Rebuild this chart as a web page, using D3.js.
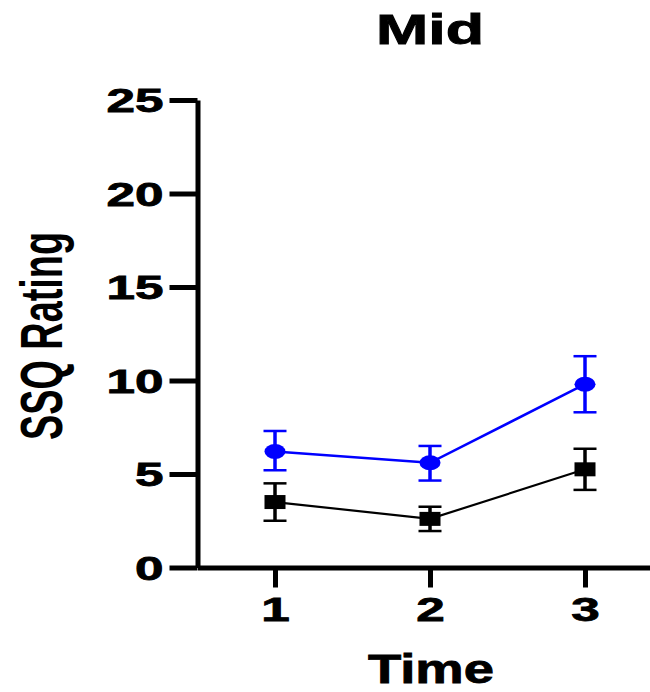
<!DOCTYPE html>
<html>
<head>
<meta charset="utf-8">
<script src="https://cdn.jsdelivr.net/npm/d3@7"></script>
<style>
  html, body { margin: 0; padding: 0; background: #fff; }
  svg { display: block; }
  text { font-family: "Liberation Sans", Arial, Helvetica, sans-serif; font-weight: bold; fill: #000; }
</style>
</head>
<body>
<script>
// Time points and group means with error-bar extents
const times = [1, 2, 3];
const blueMean  = [6.2, 5.6, 9.8];
const blueLow   = [5.2, 4.65, 8.3];
const blueHigh  = [7.3, 6.5, 11.3];
const blackMean = [3.5, 2.6, 5.25];
const blackLow  = [2.5, 1.95, 4.15];
const blackHigh = [4.5, 3.25, 6.35];
const yTicks = [0, 5, 10, 15, 20, 25];
const xTicks = [1, 2, 3];

const W = 650, H = 692;
const svg = d3.select("body").append("svg").attr("width", W).attr("height", H);

const x = d3.scaleLinear().domain([0.5, 3.5]).range([197.5, 662.5]);
const y = d3.scaleLinear().domain([0, 25]).range([567.5, 100]);

const digitW = 28.5;

// Y axis
const gy = svg.append("g").attr("transform", `translate(${x(0.5)},0)`)
  .call(d3.axisLeft(y).tickValues(yTicks).tickSize(28).tickSizeOuter(0).tickPadding(6).tickFormat(d3.format("d")));
gy.select(".domain").attr("stroke", "#000").attr("stroke-width", 5);
gy.selectAll(".tick line").attr("stroke", "#000").attr("stroke-width", 5);
gy.selectAll(".tick text")
  .attr("font-size", 33).attr("font-family", null)
  .attr("stroke", "#000").attr("stroke-width", 0.8)
  .attr("dy", "0.36em")
  .attr("textLength", d => String(d).length * digitW)
  .attr("lengthAdjust", "spacingAndGlyphs");

// X axis
const gx = svg.append("g").attr("transform", `translate(0,${y(0)})`)
  .call(d3.axisBottom(x).tickValues(xTicks).tickSize(20).tickSizeOuter(0).tickPadding(10).tickFormat(d3.format("d")));
gx.select(".domain").attr("stroke", "#000").attr("stroke-width", 5);
gx.selectAll(".tick line").attr("stroke", "#000").attr("stroke-width", 5);
gx.selectAll(".tick text")
  .attr("font-size", 33).attr("font-family", null)
  .attr("stroke", "#000").attr("stroke-width", 0.8)
  .attr("textLength", d => String(d).length * digitW)
  .attr("lengthAdjust", "spacingAndGlyphs");

// Title and axis titles
svg.append("text").text("Mid")
  .attr("x", 430).attr("y", 44).attr("text-anchor", "middle")
  .attr("font-size", 43).attr("stroke", "#000").attr("stroke-width", 0.9)
  .attr("textLength", 108).attr("lengthAdjust", "spacingAndGlyphs");

svg.append("text").text("Time")
  .attr("x", 431).attr("y", 683).attr("text-anchor", "middle")
  .attr("font-size", 40).attr("stroke", "#000").attr("stroke-width", 0.8)
  .attr("textLength", 126).attr("lengthAdjust", "spacingAndGlyphs");

svg.append("text").text("SSQ Rating")
  .attr("transform", "translate(62,336) rotate(-90)")
  .attr("text-anchor", "middle")
  .attr("font-size", 60)
  .attr("textLength", 208).attr("lengthAdjust", "spacingAndGlyphs");

// Series
const series = [
  { color: "#0000ff", mean: blueMean, low: blueLow, high: blueHigh, shape: "circle", lw: 2.5 },
  { color: "#000000", mean: blackMean, low: blackLow, high: blackHigh, shape: "square", lw: 2.2 }
];

const line = d3.line().x(d => x(d.t)).y(d => y(d.v));

series.forEach(s => {
  const pts = times.map((t, i) => ({ t, v: s.mean[i], lo: s.low[i], hi: s.high[i] }));
  const g = svg.append("g");

  g.append("path").datum(pts).attr("d", line)
    .attr("fill", "none").attr("stroke", s.color).attr("stroke-width", s.lw);

  // error bars
  const eb = g.selectAll(".eb").data(pts).enter().append("g");
  eb.append("line")
    .attr("x1", d => x(d.t)).attr("x2", d => x(d.t))
    .attr("y1", d => y(d.lo)).attr("y2", d => y(d.hi))
    .attr("stroke", s.color).attr("stroke-width", 3.5);
  eb.append("line")
    .attr("x1", d => x(d.t) - 11.5).attr("x2", d => x(d.t) + 11.5)
    .attr("y1", d => y(d.hi)).attr("y2", d => y(d.hi))
    .attr("stroke", s.color).attr("stroke-width", 2.5);
  eb.append("line")
    .attr("x1", d => x(d.t) - 11.5).attr("x2", d => x(d.t) + 11.5)
    .attr("y1", d => y(d.lo)).attr("y2", d => y(d.lo))
    .attr("stroke", s.color).attr("stroke-width", 2.5);

  // markers
  if (s.shape === "circle") {
    g.selectAll(".m").data(pts).enter().append("ellipse")
      .attr("cx", d => x(d.t)).attr("cy", d => y(d.v))
      .attr("rx", 10.5).attr("ry", 7.5).attr("fill", s.color);
  } else {
    g.selectAll(".m").data(pts).enter().append("rect")
      .attr("x", d => x(d.t) - 10.5).attr("y", d => y(d.v) - 7)
      .attr("width", 21).attr("height", 14).attr("fill", s.color);
  }
});
</script>
</body>
</html>
